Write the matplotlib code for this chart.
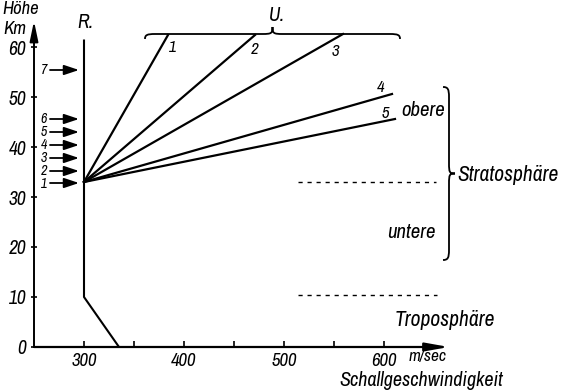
import matplotlib
matplotlib.use("Agg")
import matplotlib.pyplot as plt
from matplotlib.path import Path
from matplotlib.patches import PathPatch

FAM = ['Archivo Narrow', 'Liberation Sans Narrow', 'DejaVu Sans']
plt.rcParams['font.family'] = FAM
plt.rcParams['font.style'] = 'italic'

# ---- data ----
alt_ticks = [0, 10, 20, 30, 40, 50, 60]
speed_major = [300, 400, 500, 600]
speed_minor = [350, 450, 550]

r_speed = [335, 300, 300]
r_alt = [0, 10, 61.5]

u_start_speed = 300
u_start_alt = 33
u_labels = ['1', '2', '3', '4', '5']
u_end_speed = [384, 471, 559, 608, 611]
u_end_alt = [62.4, 62.4, 62.6, 50.6, 45.6]

arrow_labels = ['1', '2', '3', '4', '5', '6', '7']
arrow_alt = [32.8, 35.2, 37.8, 40.4, 43.0, 45.6, 55.4]

strat_boundary_alt = 33
tropo_boundary_alt = 10.5

fig = plt.figure(figsize=(5.62, 3.90), dpi=100)
ax = fig.add_axes([34 / 562, 43 / 390, 414 / 562, 322 / 390])
ax.set_xlim(250, 664)
ax.set_ylim(0, 64.4)
for s in ax.spines.values():
    s.set_visible(False)

ax.set_xticks(speed_major)
ax.set_xticks(speed_minor, minor=True)
ax.set_xticklabels([str(v) for v in speed_major])
ax.set_yticks(alt_ticks)
ax.set_yticklabels([str(v) for v in alt_ticks])
ax.tick_params(axis='x', which='both', direction='in', length=4, width=1.2, pad=4, labelsize=13.5)
ax.tick_params(axis='y', direction='inout', length=5, width=1.2, pad=3, labelsize=14)
ax.tick_params(top=False, right=False)

# axes with arrows
ax.annotate('', xy=(665, 0), xytext=(250, 0), annotation_clip=False,
            arrowprops=dict(arrowstyle='-|>,head_length=1.4,head_width=0.25', lw=1.6, color='black',
                            shrinkA=0, shrinkB=0))
ax.annotate('', xy=(250, 65.2), xytext=(250, 0), annotation_clip=False,
            arrowprops=dict(arrowstyle='-|>,head_length=1.2,head_width=0.25', lw=1.4, color='black',
                            shrinkA=0, shrinkB=0))

# R line
ax.plot(r_speed, r_alt, color='black', lw=1.5, solid_capstyle='butt', clip_on=False)

# U lines
for lab, xs, ys in zip(u_labels, u_end_speed, u_end_alt):
    ax.plot([u_start_speed, xs], [u_start_alt, ys], color='black', lw=1.6, clip_on=False)

u_lab_pos = [(389, 60.0), (471, 59.6), (551, 59.2), (597, 51.9), (601, 46.8)]
for lab, (x, y) in zip(u_labels, u_lab_pos):
    ax.text(x, y, lab, fontsize=12, ha='center', va='center')

# left arrows
for lab, a in zip(arrow_labels, arrow_alt):
    ax.annotate('', xy=(295, a), xytext=(266, a), annotation_clip=False,
                arrowprops=dict(arrowstyle='-|>,head_length=0.9,head_width=0.3', lw=1.3,
                                color='black', shrinkA=0, shrinkB=0))
    ax.text(263, a - (0.2 if lab == '1' else 0), lab, fontsize=10, ha='right', va='center')

# boundaries
ax.plot([514, 652], [strat_boundary_alt] * 2, color='black', lw=1.0, ls=(0, (3, 3.5)), clip_on=False)
ax.plot([514, 653], [tropo_boundary_alt] * 2, color='black', lw=1.0, ls=(0, (3, 3.5)), clip_on=False)


def brace(x0, y0, length, hook, tip, horizontal=True):
    # local coords in pixels: u along the brace, v perpendicular (positive = tip side)
    L = length
    r = min(10, L / 8)
    pts = [
        (0, -hook), (0, -hook * 0.2), (r * 0.2, 0), (r, 0),
        (L / 2 - r, 0),
        (L / 2 - r * 0.1, 0), (L / 2, tip * 0.1), (L / 2, tip),
        (L / 2, tip * 0.1), (L / 2 + r * 0.1, 0), (L / 2 + r, 0),
        (L - r, 0),
        (L - r * 0.2, 0), (L, -hook * 0.2), (L, -hook),
    ]
    codes = [Path.MOVETO, Path.CURVE4, Path.CURVE4, Path.CURVE4,
             Path.LINETO,
             Path.CURVE4, Path.CURVE4, Path.CURVE4,
             Path.CURVE4, Path.CURVE4, Path.CURVE4,
             Path.LINETO,
             Path.CURVE4, Path.CURVE4, Path.CURVE4]
    verts = []
    for u, v in pts:
        if horizontal:
            verts.append((x0 + u, y0 + v / 5.0))
        else:
            verts.append((x0 + v, y0 - u / 5.0))
    p = PathPatch(Path(verts, codes), fill=False, lw=1.3, color='black', clip_on=False)
    ax.add_patch(p)


brace(361, 62.6, 255, 5, 7, horizontal=True)
brace(665, 52.0, 173, 6, 6, horizontal=False)

# texts
ax.text(237, 67.6, 'Höhe', fontsize=13.5, ha='center', va='center', clip_on=False)
ax.text(219, 63.6, 'Km', fontsize=13.5, ha='left', va='center', clip_on=False)
ax.text(301, 65.0, 'R.', fontsize=14, ha='center', va='center', clip_on=False)
ax.text(493, 66.4, 'U.', fontsize=14, ha='center', va='center', clip_on=False)
ax.text(639, 47.4, 'obere', fontsize=15, ha='center', va='center', clip_on=False)
ax.text(627, 23.0, 'untere', fontsize=15, ha='center', va='center', clip_on=False)
ax.text(673, 34.4, 'Stratosphäre', fontsize=15.5, ha='left', va='center', clip_on=False)
ax.text(661, 5.4, 'Troposphäre', fontsize=15.5, ha='center', va='center', clip_on=False)
ax.text(644, -2.0, 'm/sec', fontsize=12.5, ha='center', va='center', clip_on=False)
ax.text(637, -6.6, 'Schallgeschwindigkeit', fontsize=14.5, ha='center', va='center', clip_on=False)

fig.savefig('out.png', dpi=100)
